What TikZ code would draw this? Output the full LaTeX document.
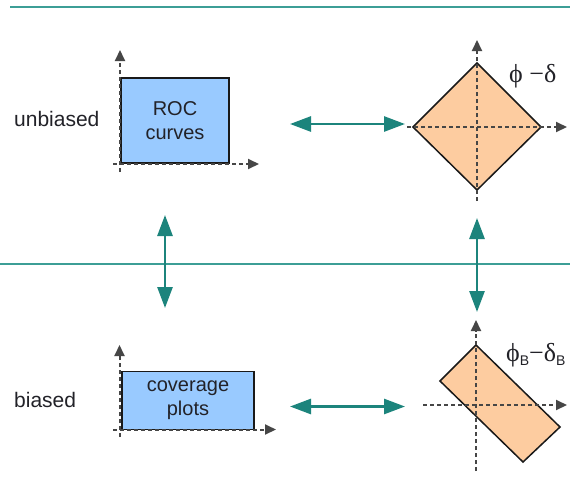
\documentclass[tikz,border=0pt]{standalone}
\usepackage{fontspec}
\setmainfont{Liberation Sans}
\newfontfamily\serifgr{Liberation Serif}
\usetikzlibrary{arrows.meta}
\definecolor{tealline}{RGB}{60,158,150}
\definecolor{tealarrow}{RGB}{28,132,124}
\definecolor{boxblue}{RGB}{153,202,255}
\definecolor{diaorange}{RGB}{253,204,160}
\definecolor{axisgray}{RGB}{70,70,70}
\definecolor{txt}{RGB}{34,34,40}
\tikzset{
  sepline/.style={tealline, line width=2.2pt},
  dblarrow/.style={tealarrow, line width=2.7pt, {Triangle[length=21pt,width=15pt]}-{Triangle[length=21pt,width=15pt]}},
  axisline/.style={axisgray, line width=2pt, dash pattern=on 4pt off 3pt, -{Triangle[length=11pt,width=10pt]}},
  plotbox/.style={draw=black!90, line width=1.5pt, fill=boxblue, text=txt, align=center, font=\fontsize{20}{24}\selectfont},
  shapefill/.style={draw=black!90, line width=1.5pt, fill=diaorange},
  rowlabel/.style={anchor=base west, text=txt, font=\fontsize{21}{24}\selectfont, inner sep=0pt},
  formula/.style={anchor=base west, text=txt, font=\serifgr\fontsize{26}{28}\selectfont, inner sep=0pt},
  subB/.style={font=\fontsize{14}{16}\selectfont}
}
\newcommand{\subBtext}{\raisebox{-4pt}{\fontspec{Liberation Sans}\fontsize{14}{16}\selectfont B}}
\begin{document}
\begin{tikzpicture}[x=1pt,y=-1pt]
\useasboundingbox[fill=white] (0,0) rectangle (570,496);
% separator lines
\coordinate (t1) at (10,7); \coordinate (t2) at (570,7);
\coordinate (m1) at (0,264); \coordinate (m2) at (570,264);
\draw[sepline] (t1) -- (t2);
\draw[sepline] (m1) -- (m2);
% row labels
\node[rowlabel] (lu) at (14,126) {unbiased};
\node[rowlabel] (lb) at (14,407) {biased};
% ROC box
\node[plotbox, minimum width=108pt, minimum height=85pt] (roc) at (175,120.5) {ROC\\curves};
\coordinate (rx0) at (113,164); \coordinate (rx1) at (259,164);
\coordinate (ry0) at (120,172); \coordinate (ry1) at (120,50);
\draw[axisline] (rx0) -- (rx1);
\draw[axisline] (ry0) -- (ry1);
% coverage box
\node[plotbox, minimum width=132pt, minimum height=58pt] (cov) at (188,400.5) {coverage\\plots};
\coordinate (cx0) at (113,429.5); \coordinate (cx1) at (276,429.5);
\coordinate (cy0) at (119.5,437); \coordinate (cy1) at (119.5,345);
\draw[axisline] (cx0) -- (cx1);
\draw[axisline] (cy0) -- (cy1);
% diamond
\coordinate (dT) at (477,63); \coordinate (dR) at (541,127);
\coordinate (dB) at (477,190); \coordinate (dL) at (413,127);
\draw[shapefill] (dT) -- (dR) -- (dB) -- (dL) -- cycle;
\coordinate (dx0) at (407,127); \coordinate (dx1) at (567,127);
\coordinate (dy0) at (477,201); \coordinate (dy1) at (477,40);
\draw[axisline] (dx0) -- (dx1);
\draw[axisline] (dy0) -- (dy1);
\node[formula] (fu) at (509,82) {ϕ −δ};
% rotated rectangle
\coordinate (bT) at (476,345); \coordinate (bR) at (560,427);
\coordinate (bB) at (523,462); \coordinate (bL) at (440,381);
\draw[shapefill] (bT) -- (bR) -- (bB) -- (bL) -- cycle;
\coordinate (bx0) at (423,405); \coordinate (bx1) at (567,405);
\coordinate (by0) at (476,471); \coordinate (by1) at (476,320);
\draw[axisline] (bx0) -- (bx1);
\draw[axisline] (by0) -- (by1);
\node[formula] (fb) at (506,361) {ϕ\subBtext−δ\subBtext};
% teal double arrows
\coordinate (ha1) at (290,124); \coordinate (ha2) at (405,124);
\coordinate (hb1) at (290,406.5); \coordinate (hb2) at (405,406.5);
\coordinate (va1) at (165,215); \coordinate (va2) at (165,308);
\coordinate (vb1) at (477,218); \coordinate (vb2) at (477,312);
\draw[dblarrow] (ha1) -- (ha2);
\draw[dblarrow] (hb1) -- (hb2);
\draw[dblarrow] (va1) -- (va2);
\draw[dblarrow] (vb1) -- (vb2);
\end{tikzpicture}
\end{document}
